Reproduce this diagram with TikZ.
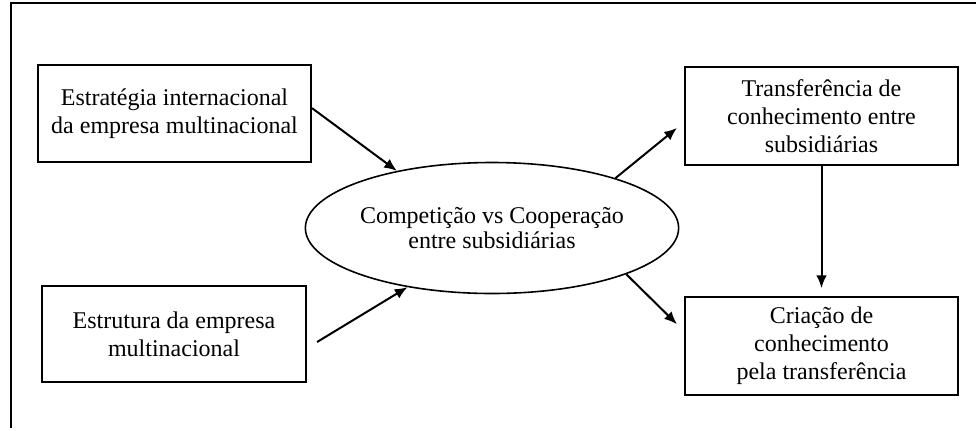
\documentclass[tikz,border=0pt]{standalone}
\usepackage{fontspec}
\setmainfont{Liberation Serif}
\usepackage{tikz}
\usetikzlibrary{positioning,arrows.meta,shapes.geometric}

\begin{document}
\begin{tikzpicture}[x=0.75pt,y=-0.75pt,semithick,
    caixa/.style={draw,line width=1.6pt,rectangle,align=center,inner sep=0pt,font=\fontsize{18}{21}\selectfont},
    elip/.style={draw,line width=1.2pt,ellipse,align=center,inner sep=0pt,minimum width=223.5pt,minimum height=98.25pt,font=\fontsize{18}{19}\selectfont},
    seta/.style={-{Latex[length=9.5pt,width=8pt]},line width=1.5pt}]
%
   \useasboundingbox (0,0) rectangle (978,430);
   \draw[line width=2.2pt] (976,3) -- (11,3) -- (11,428);
   \node[elip]  (N3) at (492,228) {Competição vs Cooperação\\entre subsidiárias};
   \node[caixa,minimum width=204.75pt,minimum height=72.75pt] (N1) at (174.5,113.5) {Estratégia internacional\\da empresa multinacional};
   \node[caixa,minimum width=198pt,minimum height=72pt] (N2) at (174,334) {Estrutura da empresa\\multinacional};
   \node[caixa,minimum width=204.75pt,minimum height=73.5pt] (N4) at (821.5,116) {Transferência de\\conhecimento entre\\subsidiárias};
   \node[caixa,minimum width=204.75pt,minimum height=73.5pt] (N5) [below=97.5pt of N4] {Criação de\\conhecimento\\pela transferência};
   \draw[seta] ([yshift=4pt]N1.east) -- (N3.149);
   \draw[seta] ([xshift=7.5pt,yshift=-6pt]N2.east) -- (N3.215);
   \draw[seta] (N3.22) -- ([xshift=-5.25pt,yshift=-9pt]N4.west);
   \draw[seta] (N3.341) -- ([xshift=-5.25pt,yshift=16.5pt]N5.west);
   \draw[seta,shorten >=6pt] (N4.south) -- (N5.north);
\end{tikzpicture}
\end{document}
